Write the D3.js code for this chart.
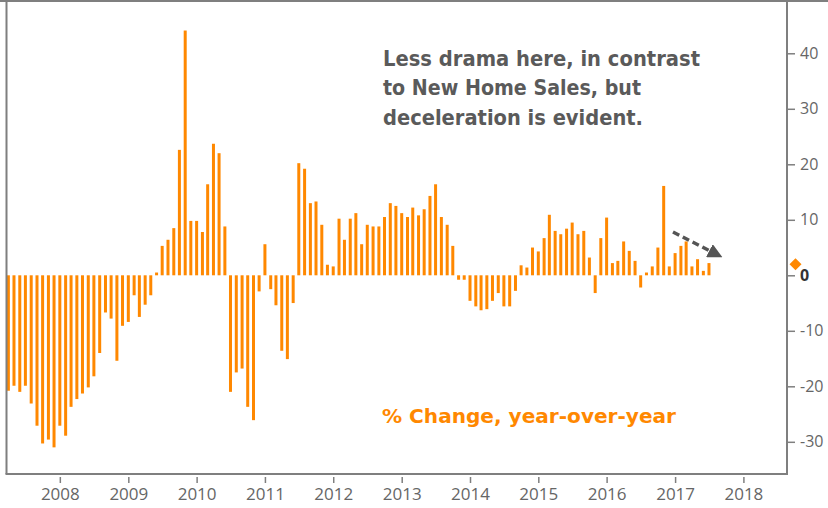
<!DOCTYPE html>
<html>
<head>
<meta charset="utf-8">
<script src="https://cdn.jsdelivr.net/npm/d3@7/dist/d3.min.js"></script>
<style>
  html, body { margin: 0; padding: 0; background: #ffffff; }
  svg { display: block; }
  .lbl { font-family: "DejaVu Sans", "Open Sans", sans-serif; }
  .tk { font-family: "Open Sans", "DejaVu Sans", sans-serif; }
</style>
</head>
<body>
<svg id="chart" width="828" height="508"></svg>
<script>
// ---- data (monthly, year-over-year % change) ----
const firstMonth = "2007-04";
const values = [
  -20.8, -19.9, -21.0, -19.9, -23.1, -27.1, -30.3, -29.6, -31.0,          // Apr-Dec 2007
  -27.1, -28.9, -23.7, -22.3, -21.3, -20.2, -18.2, -14.0, -6.7, -7.8, -15.4, -9.1, // 2008
  -8.4, -3.6, -7.5, -5.3, -3.6, 0.5, 5.3, 6.4, 8.5, 22.6, 44.1, 9.8,       // 2009
  9.8, 7.8, 16.4, 23.7, 22.0, 8.8, -21.0, -17.5, -16.8, -23.7, -26.1, -2.9, // 2010
  5.6, -2.5, -5.4, -13.6, -15.1, -5.0, 20.2, 19.2, 13.0, 13.3, 9.1, 1.9,   // 2011
  1.6, 10.2, 6.4, 10.2, 11.2, 5.6, 9.1, 8.8, 8.8, 10.5, 13.0, 12.5,        // 2012
  11.2, 10.5, 12.2, 10.8, 11.9, 14.3, 16.4, 10.5, 9.1, 5.3, -0.8, -0.8,    // 2013
  -4.6, -5.6, -6.3, -6.1, -4.6, -3.2, -5.6, -5.6, -2.8, 1.8, 1.4, 5.0,     // 2014
  4.3, 6.7, 10.9, 8.0, 7.4, 8.4, 9.5, 7.4, 8.0, 3.2, -3.2, 6.7,            // 2015
  10.4, 2.2, 2.6, 6.1, 4.4, 2.6, -2.2, 0.5, 1.6, 5.0, 16.1, 1.6,           // 2016
  4.0, 5.3, 6.1, 1.6, 2.9, 0.8, 2.2                                         // Jan-Jul 2017
];
const yTicks = [-30, -20, -10, 0, 10, 20, 30, 40];
const xTickYears = [2008, 2009, 2010, 2011, 2012, 2013, 2014, 2015, 2016, 2017, 2018];
const noteLines = ["Less drama here, in contrast", "to New Home Sales, but", "deceleration is evident."];
const seriesLabel = "% Change, year-over-year";
const latestValue = 2.0;

(function () {
  // ---- layout ----
  const W = 828;
  const pLeft = 6.5, pRight = 787, pTop = 0, pBottom = 474;
  const orange = "#ff8800";
  const axisGray = "#7f7f7f";
  const textGray = "#666666";

  const parse = d3.timeParse("%Y-%m");
  const start = parse(firstMonth);
  const data = values.map((v, i) => ({ date: d3.timeMonth.offset(start, i), value: v }));

  const svg = d3.select("#chart");

  const x = d3.scaleTime()
    .domain([new Date(2007, 2, 22), new Date(2018, 7, 22)])
    .range([pLeft, pRight]);
  const y = d3.scaleLinear()
    .domain([-35.8, 49.6])
    .range([pBottom, pTop]);

  // bars
  const barW = 3;
  svg.append("g")
    .selectAll("rect")
    .data(data)
    .join("rect")
    .attr("x", d => x(d.date) - barW / 2)
    .attr("width", barW)
    .attr("y", d => Math.min(y(d.value), y(0)))
    .attr("height", d => Math.abs(y(d.value) - y(0)))
    .attr("fill", orange);

  // frame
  svg.append("line").attr("x1", pLeft).attr("x2", pLeft).attr("y1", 0).attr("y2", pBottom)
    .attr("stroke", axisGray).attr("stroke-width", 2);
  svg.append("line").attr("x1", pLeft - 1).attr("x2", pRight + 1).attr("y1", pBottom).attr("y2", pBottom)
    .attr("stroke", axisGray).attr("stroke-width", 2);
  svg.append("line").attr("x1", 0).attr("x2", W).attr("y1", 1).attr("y2", 1)
    .attr("stroke", axisGray).attr("stroke-width", 2);

  // right axis
  const yAxis = d3.axisRight(y).tickValues(yTicks).tickSize(8).tickPadding(5)
    .tickFormat(d => String(d));
  const gy = svg.append("g").attr("transform", `translate(${pRight},0)`).call(yAxis);
  gy.select(".domain").attr("stroke", axisGray).attr("stroke-width", 2)
    .attr("d", `M0,0V${pBottom}`);
  gy.selectAll(".tick line").attr("stroke", axisGray).attr("stroke-width", 1.5);
  gy.selectAll(".tick text")
    .attr("class", "tk")
    .attr("fill", d => d === 0 ? "#333333" : textGray)
    .attr("font-weight", d => d === 0 ? "bold" : "normal")
    .attr("font-size", 16);

  // bottom axis
  const xAxis = d3.axisBottom(x)
    .tickValues(xTickYears.map(yv => new Date(yv, 0, 1)))
    .tickFormat(d3.timeFormat("%Y"))
    .tickSize(6).tickPadding(5);
  const gx = svg.append("g").attr("transform", `translate(0,${pBottom + 3})`).call(xAxis);
  gx.select(".domain").remove();
  gx.selectAll(".tick line").attr("stroke", axisGray).attr("stroke-width", 1.5);
  gx.selectAll(".tick text")
    .attr("class", "tk")
    .attr("fill", textGray)
    .attr("font-size", 17);

  // latest value marker (diamond)
  svg.append("path")
    .attr("d", d3.symbol(d3.symbolDiamond2, 92)())
    .attr("transform", `translate(${pRight + 8.5},${y(latestValue)})`)
    .attr("fill", orange);

  // annotation text
  const noteWidths = [317, 258, 260];
  svg.append("g").selectAll("text")
    .data(noteLines)
    .join("text")
    .attr("class", "lbl")
    .attr("x", 383)
    .attr("y", (d, i) => 66 + i * 29.3)
    .attr("font-size", 22)
    .attr("font-weight", "bold")
    .attr("fill", "#5a5a5a")
    .attr("textLength", (d, i) => noteWidths[i])
    .attr("lengthAdjust", "spacingAndGlyphs")
    .text(d => d);

  svg.append("text")
    .attr("class", "lbl")
    .attr("x", 382)
    .attr("y", 423)
    .attr("font-size", 20)
    .attr("font-weight", "bold")
    .attr("fill", orange)
    .attr("textLength", 294)
    .attr("lengthAdjust", "spacingAndGlyphs")
    .text(seriesLabel);

  // dashed arrow
  svg.append("defs").append("marker")
    .attr("id", "arrowhead")
    .attr("viewBox", "0 0 10 10")
    .attr("refX", 2).attr("refY", 5)
    .attr("markerWidth", 4.2).attr("markerHeight", 4.2)
    .attr("markerUnits", "strokeWidth")
    .attr("orient", "auto")
    .append("path").attr("d", "M0,0L10,5L0,10Z").attr("fill", "#555555");
  svg.append("line")
    .attr("x1", 673).attr("y1", 232)
    .attr("x2", 712).attr("y2", 252)
    .attr("stroke", "#555555")
    .attr("stroke-width", 3.5)
    .attr("stroke-dasharray", "7,4")
    .attr("marker-end", "url(#arrowhead)");
})();
</script>
</body>
</html>
